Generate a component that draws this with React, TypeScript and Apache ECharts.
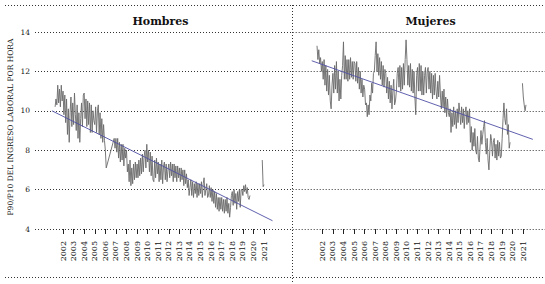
import React, { useEffect, useRef } from "react";
import * as echarts from "echarts";

// ---------- data ----------
const years = [2002, 2003, 2004, 2005, 2006, 2007, 2008, 2009, 2010, 2011, 2012, 2013, 2014, 2015, 2016, 2017, 2018, 2019, 2020, 2021];
const yTicks = [4, 6, 8, 10, 12, 14];

// Hombres: monthly, starting April 2001 (null = missing months)
const hombresStart = 2001.25;
const hombres: (number | null)[] = [
  // 2001 Apr-Dec
  10.2, 10.6, 10.3, 11.3, 10.4, 11.1, 10.2, 11.3, 10.5,
  // 2002
  11.0, 9.8, 10.8, 9.4, 10.6, 8.8, 10.1, 8.4, 9.9, 10.7, 9.2, 10.4,
  // 2003
  9.3, 10.9, 9.8, 9.0, 10.3, 8.6, 9.9, 8.4, 9.6, 10.4, 9.2, 10.8,
  // 2004
  10.9, 9.6, 10.6, 9.2, 10.5, 9.3, 10.4, 8.9, 10.3, 8.9, 10.0, 9.5,
  // 2005
  9.3, 10.2, 8.9, 10.0, 10.3, 8.8, 9.9, 8.6, 9.6, 8.4, 9.3, 8.5,
  // 2006
  8.0, 7.1, null, null, null, null, null, null, null, null, 8.6, 8.1,
  // 2007
  8.6, 7.9, 8.6, 7.6, 8.4, 7.4, 8.3, 7.5, 8.3, 7.2, 8.1, 7.6,
  // 2008
  8.0, 6.9, 7.3, 6.4, 7.5, 6.2, 7.1, 6.3, 7.3, 6.5, 7.4, 6.6,
  // 2009
  7.3, 6.6, 7.5, 6.7, 7.6, 6.8, 7.8, 6.9, 7.7, 8.0, 7.1, 8.3,
  // 2010
  7.4, 8.0, 6.9, 7.9, 6.7, 7.7, 6.5, 6.4, 7.5, 6.6, 7.6, 6.8,
  // 2011
  7.4, 6.4, 7.3, 6.5, 7.5, 6.3, 7.2, 7.4, 6.5, 7.3, 6.4, 7.0,
  // 2012
  7.3, 6.6, 7.4, 6.7, 7.3, 6.4, 7.3, 6.6, 7.2, 6.4, 7.2, 6.6,
  // 2013
  7.1, 6.4, 7.1, 6.5, 7.0, 6.2, 7.0, 6.3, 6.8, 6.1, 6.5, 5.7,
  // 2014
  6.1, 6.5, 5.7, 6.4, 5.6, 6.3, 5.8, 6.4, 5.6, 6.3, 5.7, 6.3,
  // 2015
  5.8, 6.4, 5.6, 6.3, 6.6, 5.7, 6.0, 6.3, 5.6, 5.7, 6.2, 5.6,
  // 2016
  6.1, 5.4, 6.0, 5.3, 5.9, 5.1, 5.8, 5.0, 5.6, 4.9, 5.6, 5.0,
  // 2017
  5.6, 4.9, 5.5, 4.8, 5.5, 4.9, 5.6, 4.8, 5.3, 4.6, 5.1, 5.7,
  // 2018
  5.9, 5.2, 6.0, 5.3, 5.8, 5.0, 5.9, 5.4, 6.0, 5.1, 6.0, 6.0,
  // 2019 Jan-Sep
  5.7, 6.2, 5.9, 6.25, 5.8, 6.1, 5.6, 5.5, 5.7,
];
const hombres2021Start = 2020.833;
const hombres2021 = [7.5, 6.15, 6.25];
const hombresTrendX = [2000.95, 2021.8];
const hombresTrendY = [10.0, 4.42];

// Mujeres: monthly, starting July 2001
const mujeresStart = 2001.5;
const mujeres: number[] = [
  // 2001 Jul-Dec
  13.3, 12.6, 13.1, 12.4, 12.7, 12.0,
  // 2002
  12.5, 11.6, 12.6, 11.3, 12.3, 11.0, 12.1, 10.8, 11.8, 10.5, 10.1, 11.3,
  // 2003
  11.9, 10.9, 12.3, 11.1, 12.5, 10.9, 12.0, 10.5, 11.6, 10.6, 11.8, 12.3,
  // 2004
  13.5, 11.6, 12.8, 11.6, 12.6, 11.5, 12.6, 11.6, 12.7, 11.7, 12.5, 11.6,
  // 2005
  12.5, 12.4, 11.5, 12.5, 11.4, 12.2, 11.1, 12.0, 10.9, 11.6, 10.7, 11.3,
  // 2006
  11.1, 10.3, 10.4, 9.7, 10.3, 9.8, 10.8, 10.5, 11.4, 10.9, 11.9, 12.0,
  // 2007
  12.8, 13.5, 12.0, 12.9, 11.8, 12.7, 11.6, 12.5, 11.3, 12.3, 11.2, 12.1,
  // 2008
  11.9, 10.9, 11.7, 10.6, 11.5, 10.4, 11.3, 10.1, 11.0, 11.6, 10.3, 10.5,
  // 2009
  11.0, 11.9, 12.2, 11.2, 12.3, 11.0, 12.2, 11.1, 12.4, 11.3, 12.6, 13.6,
  // 2010
  12.6, 11.3, 12.3, 11.2, 12.4, 11.0, 12.1, 10.9, 12.0, 10.7, 9.8, 11.8,
  // 2011
  12.2, 11.0, 12.4, 11.0, 12.3, 10.8, 12.0, 10.8, 11.8, 12.2, 10.9, 12.0,
  // 2012
  12.2, 11.1, 12.0, 10.9, 11.9, 10.6, 11.8, 10.8, 11.9, 11.0, 10.6, 11.5,
  // 2013
  10.7, 11.8, 10.8, 10.1, 11.0, 10.2, 11.1, 9.9, 10.7, 9.7, 10.6, 9.9,
  // 2014
  9.7, 10.1, 8.9, 9.9, 9.2, 10.2, 9.3, 10.0, 9.1, 10.1, 9.4, 10.4,
  // 2015
  9.9, 9.3, 10.2, 9.4, 10.1, 9.1, 9.9, 10.2, 9.3, 10.0, 9.4, 10.1,
  // 2016
  8.4, 9.2, 8.0, 8.9, 8.2, 9.1, 8.0, 7.8, 8.7, 7.6, 7.4, 8.2,
  // 2017
  9.0, 8.3, 8.8, 9.2, 9.5, 8.4, 7.8, 8.6, 7.5, 7.0, 8.0, 8.8,
  // 2018
  8.5, 7.7, 8.4, 8.6, 7.6, 8.3, 7.5, 8.5, 7.7, 8.4, 7.6, 7.7,
  // 2019 Jan-Oct
  8.6, 9.6, 10.4, 9.6, 9.3, 10.1, 8.8, 9.3, 8.1, 8.4,
];
const mujeres2021Start = 2020.917;
const mujeres2021 = [11.4, 10.7, 10.3, 10.0, 10.3];
const mujeresTrendX = [2001.0, 2021.9];
const mujeresTrendY = [12.54, 8.55];

const panelTitles = ["Hombres", "Mujeres"];
const yAxisName = "P90/P10 DEL INGRESO LABORAL POR HORA";

// ---------- helpers ----------
const monthly = (start: number, vals: (number | null)[]) =>
  vals.map((v, i) => [start + i / 12, v === null ? "-" : v]);
const pairs = (xs: number[], ys: number[]) => xs.map((x, i) => [x, ys[i]]);

const FONT = "DejaVu Serif";
const dotted = [1, 2];

export default function App() {
  const ref = useRef<HTMLDivElement>(null);
  useEffect(() => {
    if (!ref.current) return;
    const chart = echarts.init(ref.current, null, { renderer: "svg" });

    const grids = [
      { left: 35, top: 32, width: 257.7, height: 197 },
      { left: 292.7, top: 32, width: 252.3, height: 197 },
    ];
    const xRanges = [
      [1999.35, 2023.71],
      [1999.2, 2023.05],
    ];

    const xAxes = [0, 1].map((g) => ({
      type: "value",
      gridIndex: g,
      min: xRanges[g][0],
      max: xRanges[g][1],
      axisLine: { show: false },
      splitLine: { show: false },
      axisTick: {
        show: true,
        customValues: years,
        length: 5,
        lineStyle: { color: "#222", width: 1 },
      },
      axisLabel: {
        show: true,
        customValues: years,
        rotate: 90,
        margin: 12,
        fontSize: 8,
        fontFamily: FONT,
        color: "#111",
        formatter: (v: number) => String(Math.round(v)),
      },
    }));

    const yAxes = [0, 1].map((g) => ({
      type: "value",
      gridIndex: g,
      min: 4,
      max: 14,
      interval: 2,
      axisLine: { show: false },
      axisTick: { show: false },
      axisLabel: {
        show: g === 0,
        margin: 5,
        fontSize: 7.5,
        fontFamily: FONT,
        color: "#111",
        customValues: yTicks,
      },
      splitLine: {
        show: true,
        lineStyle: { color: "#333", type: dotted, width: 1 },
      },
    }));

    const dataLine = { color: "#6a6a6a", width: 0.9 };
    const trendLine = { color: "#4f4fa6", width: 0.9 };

    const series: any[] = [
      {
        type: "line", xAxisIndex: 0, yAxisIndex: 0, showSymbol: false, symbol: "none",
        connectNulls: true, lineStyle: dataLine, data: monthly(hombresStart, hombres),
      },
      {
        type: "line", xAxisIndex: 0, yAxisIndex: 0, showSymbol: false, symbol: "none",
        lineStyle: dataLine, data: monthly(hombres2021Start, hombres2021),
      },
      {
        type: "line", xAxisIndex: 0, yAxisIndex: 0, showSymbol: false, symbol: "none",
        lineStyle: trendLine, data: pairs(hombresTrendX, hombresTrendY),
      },
      {
        type: "line", xAxisIndex: 1, yAxisIndex: 1, showSymbol: false, symbol: "none",
        lineStyle: dataLine, data: monthly(mujeresStart, mujeres),
      },
      {
        type: "line", xAxisIndex: 1, yAxisIndex: 1, showSymbol: false, symbol: "none",
        lineStyle: dataLine, data: monthly(mujeres2021Start, mujeres2021),
      },
      {
        type: "line", xAxisIndex: 1, yAxisIndex: 1, showSymbol: false, symbol: "none",
        lineStyle: trendLine, data: pairs(mujeresTrendX, mujeresTrendY),
      },
    ];

    const borderStyle = { stroke: "#333", lineWidth: 1, lineDash: [1, 2] };

    chart.setOption({
      animation: false,
      backgroundColor: "#fff",
      grid: grids,
      xAxis: xAxes,
      yAxis: yAxes,
      series,
      title: [
        {
          text: panelTitles[0], left: 155.5, top: 11, textAlign: "center",
          textStyle: { fontFamily: FONT, fontWeight: "bold", fontSize: 11, color: "#111" },
        },
        {
          text: panelTitles[1], left: 425.5, top: 11, textAlign: "center",
          textStyle: { fontFamily: FONT, fontWeight: "bold", fontSize: 11, color: "#111" },
        },
      ],
      graphic: [
        { type: "line", shape: { x1: 5, y1: 5.5, x2: 545, y2: 5.5 }, style: borderStyle, silent: true },
        { type: "line", shape: { x1: 5, y1: 277.5, x2: 545, y2: 277.5 }, style: borderStyle, silent: true },
        { type: "line", shape: { x1: 292.5, y1: 5, x2: 292.5, y2: 284 }, style: borderStyle, silent: true },
        {
          type: "text",
          x: 10,
          y: 127,
          rotation: Math.PI / 2,
          style: {
            text: yAxisName,
            font: `7.5px "${FONT}"`,
            fill: "#111",
            align: "center",
            verticalAlign: "middle",
          },
          silent: true,
        },
      ],
    });
    return () => chart.dispose();
  }, []);
  return (
    <div
      ref={ref}
      style={{ position: "fixed", left: 0, top: 0, width: 545, height: 284 }}
    />
  );
}
